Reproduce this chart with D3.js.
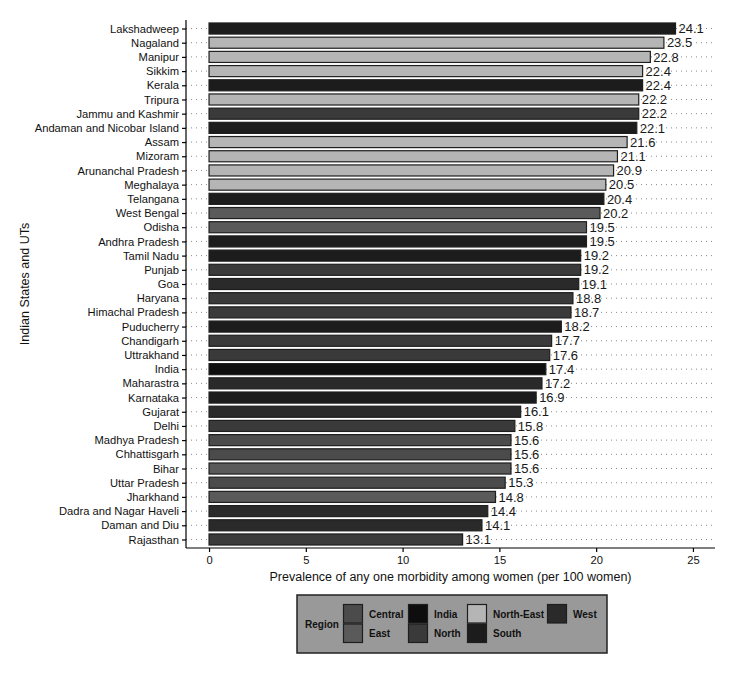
<!DOCTYPE html>
<html>
<head>
<meta charset="utf-8">
<script src="https://cdn.jsdelivr.net/npm/d3@7"></script>
<style>
  body { margin: 0; background: #fff; }
  svg { font-family: "Liberation Sans", Arial, Helvetica, sans-serif; }
</style>
</head>
<body>
<svg></svg>
<script>
// states ordered top to bottom, with their value and region
var states = ["Lakshadweep","Nagaland","Manipur","Sikkim","Kerala","Tripura","Jammu and Kashmir",
  "Andaman and Nicobar Island","Assam","Mizoram","Arunanchal Pradesh","Meghalaya","Telangana",
  "West Bengal","Odisha","Andhra Pradesh","Tamil Nadu","Punjab","Goa","Haryana","Himachal Pradesh",
  "Puducherry","Chandigarh","Uttrakhand","India","Maharastra","Karnataka","Gujarat","Delhi",
  "Madhya Pradesh","Chhattisgarh","Bihar","Uttar Pradesh","Jharkhand","Dadra and Nagar Haveli",
  "Daman and Diu","Rajasthan"];
var values = [24.1,23.5,22.8,22.4,22.4,22.2,22.2,22.1,21.6,21.1,20.9,20.5,20.4,20.2,19.5,19.5,19.2,
  19.2,19.1,18.8,18.7,18.2,17.7,17.6,17.4,17.2,16.9,16.1,15.8,15.6,15.6,15.6,15.3,14.8,14.4,14.1,13.1];
var regions = ["South","North-East","North-East","North-East","South","North-East","North",
  "South","North-East","North-East","North-East","North-East","South",
  "East","East","South","South","North","West","North","North",
  "South","North","North","India","West","South","West","North",
  "Central","Central","East","Central","East","West",
  "West","North"];
var regionNames = ["Central","East","India","North","North-East","South","West"];
var regionColors = ["#4b4b4b","#5a5a5a","#0e0e0e","#3a3a3a","#b5b5b5","#1c1c1c","#2a2a2a"];
var xTicks = [0,5,10,15,20,25];

var data = states.map(function(s, i){ return {name: s, value: values[i], region: regions[i]}; });

var svgWidth = 736, svgHeight = 674;
var plotLeft = 186, plotRight = 715, plotTop = 20, plotBottom = 548;

var svg = d3.select("svg").attr("width", svgWidth).attr("height", svgHeight);

var xScale = d3.scaleLinear().domain([-1.19, 26.14]).range([plotLeft, plotRight]);
var yScale = d3.scalePoint().domain(states).range([plotTop, plotBottom]).padding(0.6);
var color = d3.scaleOrdinal().domain(regionNames).range(regionColors);
var step = yScale.step();
var barH = step * 0.78;

// dotted grid lines per category
svg.append("g").selectAll("line")
  .data(states).enter().append("line")
  .attr("x1", plotLeft).attr("x2", plotRight)
  .attr("y1", function(d){ return yScale(d); })
  .attr("y2", function(d){ return yScale(d); })
  .attr("stroke", "#8a8a8a")
  .attr("stroke-width", 1)
  .attr("stroke-dasharray", "1,4");

// bars
svg.append("g").selectAll("rect")
  .data(data).enter().append("rect")
  .attr("x", xScale(0))
  .attr("y", function(d){ return yScale(d.name) - barH / 2; })
  .attr("width", function(d){ return xScale(d.value) - xScale(0); })
  .attr("height", barH)
  .attr("fill", function(d){ return color(d.region); })
  .attr("stroke", "#1e1e1e")
  .attr("stroke-width", 1.2);

// value labels
svg.append("g").selectAll("text")
  .data(data).enter().append("text")
  .attr("x", function(d){ return xScale(d.value) + 3; })
  .attr("y", function(d){ return yScale(d.name); })
  .attr("dy", "0.36em")
  .attr("font-size", 13)
  .attr("fill", "#1a1a1a")
  .text(function(d){ return d.value.toFixed(1); });

// axes
var yAxis = d3.axisLeft(yScale).tickSize(4).tickPadding(3);
var gy = svg.append("g").attr("transform", "translate(" + plotLeft + ",0)").call(yAxis);
gy.select(".domain").attr("d", "M0," + plotTop + "V" + plotBottom).attr("stroke", "#000").attr("stroke-width", 1.2);
gy.selectAll(".tick line").attr("stroke", "#000").attr("stroke-width", 1.2);
gy.selectAll(".tick text").attr("font-size", 11.2).attr("fill", "#111")
  .attr("font-family", "Liberation Sans, Arial, sans-serif");

var xAxis = d3.axisBottom(xScale).tickValues(xTicks).tickSize(4).tickPadding(4);
var gx = svg.append("g").attr("transform", "translate(0," + plotBottom + ")").call(xAxis);
gx.select(".domain").attr("d", "M" + plotLeft + ",0H" + plotRight).attr("stroke", "#000").attr("stroke-width", 1.2);
gx.selectAll(".tick line").attr("stroke", "#000").attr("stroke-width", 1.2);
gx.selectAll(".tick text").attr("font-size", 11.2).attr("fill", "#111")
  .attr("font-family", "Liberation Sans, Arial, sans-serif");

// axis titles
svg.append("text")
  .attr("x", (plotLeft + plotRight) / 2).attr("y", 581)
  .attr("text-anchor", "middle")
  .attr("font-size", 12.5).attr("fill", "#111")
  .text("Prevalence of any one morbidity among women (per 100 women)");

svg.append("text")
  .attr("transform", "translate(29," + ((plotTop + plotBottom) / 2) + ") rotate(-90)")
  .attr("text-anchor", "middle")
  .attr("font-size", 12.5).attr("fill", "#111")
  .text("Indian States and UTs");

// legend
var lg = svg.append("g");
lg.append("rect")
  .attr("x", 297).attr("y", 595).attr("width", 310).attr("height", 58)
  .attr("fill", "#999").attr("stroke", "#222").attr("stroke-width", 1.5);
lg.append("text")
  .attr("x", 305).attr("y", 624).attr("dy", "0.35em")
  .attr("font-size", 10).attr("font-weight", "bold").attr("fill", "#111")
  .text("Region");

var colX = [343, 408, 467, 547];
var keys = lg.selectAll("g.key")
  .data(regionNames).enter().append("g")
  .attr("class", "key")
  .attr("transform", function(d, i){
    return "translate(" + colX[Math.floor(i / 2)] + "," + (604 + (i % 2) * 19.5) + ")";
  });
keys.append("rect")
  .attr("x", 0.5).attr("y", 0.5).attr("width", 19).attr("height", 18.5)
  .attr("fill", function(d){ return color(d); })
  .attr("stroke", "#1e1e1e").attr("stroke-width", 1.2);
keys.append("text")
  .attr("x", 26).attr("y", 10).attr("dy", "0.35em")
  .attr("font-size", 10).attr("font-weight", "bold").attr("fill", "#111")
  .text(function(d){ return d; });
</script>
</body>
</html>
